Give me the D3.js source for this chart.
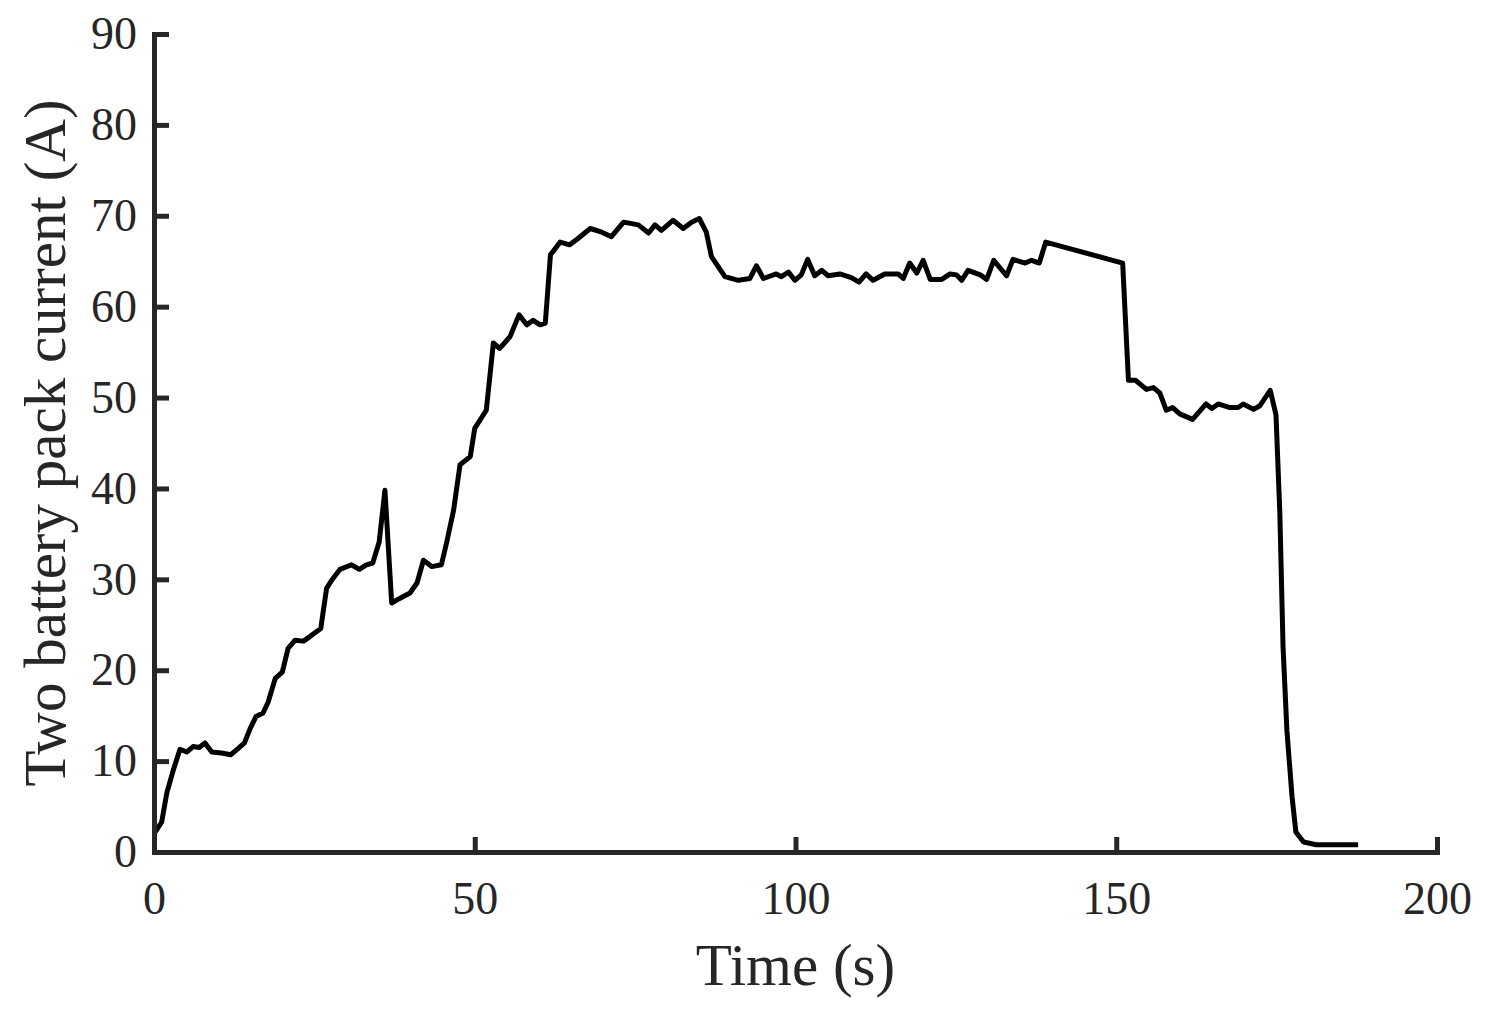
<!DOCTYPE html>
<html>
<head>
<meta charset="utf-8">
<script src="https://cdn.jsdelivr.net/npm/d3@7"></script>
<style>
  html, body { margin: 0; padding: 0; background: #fff; }
  svg text { font-family: "Liberation Serif", "Times New Roman", serif; fill: #262626; }
</style>
</head>
<body>
<svg id="chart" width="1488" height="1011"></svg>
<script>
// time (s)
const timeSec = [
  0.2, 1.2, 2.0, 3.0, 4.05, 5.1, 6.1, 7.05, 7.95, 9.0,
  10.55, 11.95, 13.15, 14.1, 15.0, 15.9, 17.0, 17.8, 18.9, 20.0,
  20.9, 22.0, 23.3, 24.3, 26.0, 26.9, 27.7, 29.0, 30.8, 32.0,
  33.1, 34.1, 35.1, 36.0, 37.05, 38.3, 39.9, 41.0, 42.0, 43.3,
  44.8, 45.6, 46.7, 47.7, 49.3, 50.0, 51.8, 52.9, 53.9, 55.5,
  56.9, 58.1, 59.1, 60.2, 61.0, 61.8, 63.3, 64.8, 66.1, 68.0,
  69.8, 71.3, 73.2, 75.5, 77.1, 78.1, 79.1, 80.9, 82.5, 83.8,
  85.0, 86.1, 86.9, 89.0, 91.1, 92.9, 93.9, 95.0, 97.0, 97.8,
  98.9, 99.9, 100.9, 101.9, 103.0, 104.1, 105.1, 106.9, 108.7, 109.9,
  111.0, 112.1, 113.9, 116.0, 116.8, 117.8, 118.9, 119.9, 121.0, 122.8,
  124.1, 125.1, 125.9, 126.9, 128.8, 129.8, 130.9, 132.9, 133.9, 135.8,
  136.8, 138.0, 139.0, 151.0, 151.9, 153.0, 154.7, 155.8, 156.8, 157.8,
  158.8, 159.9, 161.9, 164.0, 164.9, 165.9, 167.7, 169.0, 169.8, 171.4,
  172.4, 174.0, 174.9, 175.5, 176.0, 176.6, 177.4, 178.0, 179.2, 181.2,
  187.7
];

// two battery pack current (A)
const currentA = [
  2.2, 3.3, 6.5, 9.0, 11.3, 11.0, 11.6, 11.5, 12.0, 11.0,
  10.9, 10.7, 11.4, 12.0, 13.6, 14.9, 15.3, 16.5, 19.1, 19.8,
  22.4, 23.3, 23.2, 23.7, 24.6, 29.0, 29.9, 31.1, 31.6, 31.1,
  31.6, 31.8, 34.1, 39.8, 27.4, 27.9, 28.5, 29.6, 32.1, 31.4,
  31.6, 34.0, 37.6, 42.6, 43.5, 46.6, 48.6, 56.0, 55.4, 56.7,
  59.1, 58.0, 58.5, 58.0, 58.2, 65.7, 67.1, 66.8, 67.5, 68.6,
  68.2, 67.7, 69.3, 69.0, 68.1, 69.0, 68.4, 69.5, 68.6, 69.3,
  69.7, 68.2, 65.5, 63.3, 62.9, 63.1, 64.5, 63.1, 63.6, 63.3,
  63.8, 62.9, 63.5, 65.2, 63.4, 64.0, 63.4, 63.6, 63.2, 62.7,
  63.6, 62.9, 63.6, 63.6, 63.1, 64.8, 63.7, 65.1, 63.0, 63.0,
  63.6, 63.5, 62.9, 64.0, 63.5, 63.0, 65.1, 63.4, 65.2, 64.8,
  65.1, 64.8, 67.1, 64.8, 51.9, 51.9, 50.9, 51.1, 50.5, 48.6,
  48.9, 48.2, 47.6, 49.3, 48.8, 49.3, 48.9, 48.9, 49.3, 48.7,
  49.1, 50.8, 48.1, 37.3, 22.6, 13.4, 6.1, 2.2, 1.1, 0.8,
  0.8
];

const xTicks = [0, 50, 100, 150, 200];
const yTicks = [0, 10, 20, 30, 40, 50, 60, 70, 80, 90];

const margin = { top: 34, left: 154, right: 51, bottom: 159 };
const width = 1488, height = 1011;
const axisColor = '#262626';

const svg = d3.select('#chart');

const x = d3.scaleLinear().domain([0, 200]).range([margin.left, width - margin.right]);
const y = d3.scaleLinear().domain([0, 90]).range([height - margin.bottom, margin.top]);

const data = timeSec.map((t, i) => ({ t: t, v: currentA[i] }));

// the curve
svg.append('path')
  .datum(data)
  .attr('fill', 'none')
  .attr('stroke', '#000')
  .attr('stroke-width', 5)
  .attr('stroke-linejoin', 'round')
  .attr('d', d3.line().x(d => x(d.t)).y(d => y(d.v)));

// axes, ticks pointing inward
const xAxis = d3.axisBottom(x).tickValues(xTicks).tickSizeInner(-15).tickSizeOuter(0).tickPadding(29);
const yAxis = d3.axisLeft(y).tickValues(yTicks).tickSizeInner(-15).tickSizeOuter(0).tickPadding(17);

const gx = svg.append('g')
  .attr('transform', `translate(0, ${height - margin.bottom})`)
  .call(xAxis);

const gy = svg.append('g')
  .attr('transform', `translate(${margin.left}, 0)`)
  .call(yAxis);

[gx, gy].forEach(g => {
  g.select('.domain').attr('stroke', axisColor).attr('stroke-width', 5).attr('stroke-linecap', 'square');
  g.selectAll('.tick line').attr('stroke', axisColor).attr('stroke-width', 5);
  g.selectAll('.tick text')
    .attr('fill', axisColor)
    .style('font-family', '"Liberation Serif", "Times New Roman", serif')
    .style('font-size', '46px');
});

// axis titles
svg.append('text')
  .attr('x', (x(0) + x(200)) / 2)
  .attr('y', 985)
  .attr('text-anchor', 'middle')
  .style('font-size', '59px')
  .text('Time (s)');

svg.append('text')
  .attr('transform', `translate(65, ${(y(0) + y(90)) / 2}) rotate(-90)`)
  .attr('text-anchor', 'middle')
  .style('font-size', '59px')
  .text('Two battery pack current (A)');
</script>
</body>
</html>
